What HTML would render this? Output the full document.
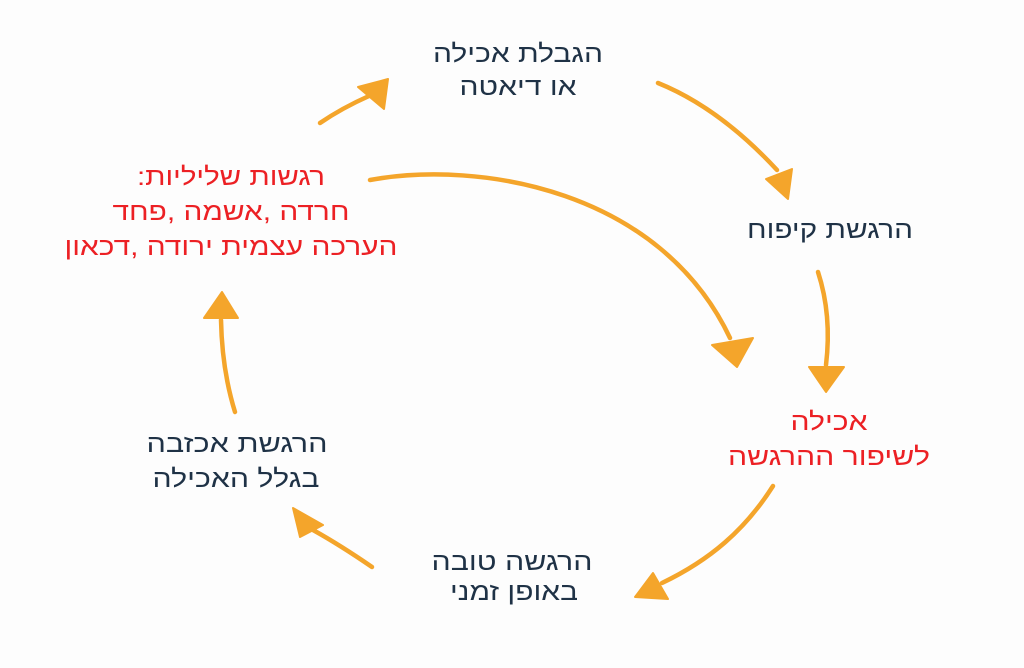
<!DOCTYPE html>
<html>
<head>
<meta charset="utf-8">
<style>
  html, body { margin:0; padding:0; background:#fdfdfd; }
  body { width:1024px; height:668px; overflow:hidden; }
  svg { display:block; }
  text { font-family: "Liberation Sans", "DejaVu Sans", sans-serif; font-size:25px; direction:rtl; unicode-bidi:embed; }
  .d { fill:#1f3246; }
  .r { fill:#ec2024; }
  .a { fill:none; stroke:#f4a52b; stroke-width:4.5; stroke-linecap:round; }
  .h { fill:#f4a52b; stroke:#f4a52b; stroke-width:2; stroke-linejoin:round; }
</style>
</head>
<body>
<svg width="1024" height="668" viewBox="0 0 1024 668" xmlns="http://www.w3.org/2000/svg">
  <rect width="1024" height="668" fill="#fdfdfd"/>

  <!-- Top node -->
  <text class="d" x="518" y="62" text-anchor="middle" textLength="170" lengthAdjust="spacingAndGlyphs">הגבלת אכילה</text>
  <text class="d" x="518" y="95" text-anchor="middle" textLength="117" lengthAdjust="spacingAndGlyphs">או דיאטה</text>

  <!-- Right node -->
  <text class="d" x="830" y="238" text-anchor="middle" textLength="166" lengthAdjust="spacingAndGlyphs">הרגשת קיפוח</text>

  <!-- Right red node -->
  <text class="r" x="829" y="430" text-anchor="middle" textLength="77" lengthAdjust="spacingAndGlyphs">אכילה</text>
  <text class="r" x="829" y="465" text-anchor="middle" textLength="202" lengthAdjust="spacingAndGlyphs">לשיפור ההרגשה</text>

  <!-- Bottom node -->
  <text class="d" x="512" y="570" text-anchor="middle" textLength="161" lengthAdjust="spacingAndGlyphs">הרגשה טובה</text>
  <text class="d" x="514" y="600" text-anchor="middle" textLength="128" lengthAdjust="spacingAndGlyphs">באופן זמני</text>

  <!-- Bottom-left node -->
  <text class="d" x="237" y="452" text-anchor="middle" textLength="181" lengthAdjust="spacingAndGlyphs">הרגשת אכזבה</text>
  <text class="d" x="236" y="487" text-anchor="middle" textLength="167" lengthAdjust="spacingAndGlyphs">בגלל האכילה</text>

  <!-- Left red node -->
  <text class="r" x="231" y="185" text-anchor="middle" textLength="188" lengthAdjust="spacingAndGlyphs">רגשות שליליות:</text>
  <text class="r" x="231" y="220" text-anchor="middle" textLength="237" lengthAdjust="spacingAndGlyphs">חרדה ,אשמה ,פחד</text>
  <text class="r" x="231" y="255" text-anchor="middle" textLength="333" lengthAdjust="spacingAndGlyphs">הערכה עצמית ירודה ,דכאון</text>

  <!-- Arrow 1: top-left -->
  <path class="a" d="M320,123 Q342,108 369,96"/>
  <polygon class="h" points="388,79 358,87 384,109"/>

  <!-- Arrow 2: top-right -->
  <path class="a" d="M658,83 C700,100 740,130 777,170"/>
  <polygon class="h" points="788,199 766,179 792,169"/>

  <!-- Arrow 3: right vertical -->
  <path class="a" d="M818,272 Q832,315 826,365"/>
  <polygon class="h" points="826,392 809,367 844,367"/>

  <!-- Arrow 4: big curve -->
  <path class="a" d="M370,180 C480,160 660,190 730,338"/>
  <polygon class="h" points="737,367 712,345 753,338"/>

  <!-- Arrow 5: bottom-right -->
  <path class="a" d="M773,486 C745,530 710,560 662,583"/>
  <polygon class="h" points="635,597 653,573 668,599"/>

  <!-- Arrow 6: bottom-left -->
  <path class="a" d="M372,567 Q340,545 313,530"/>
  <polygon class="h" points="293,508 300,537 323,525"/>

  <!-- Arrow 7: left vertical -->
  <path class="a" d="M235,412 Q222,370 221,320"/>
  <polygon class="h" points="222,292 204,318 238,318"/>
</svg>
</body>
</html>
